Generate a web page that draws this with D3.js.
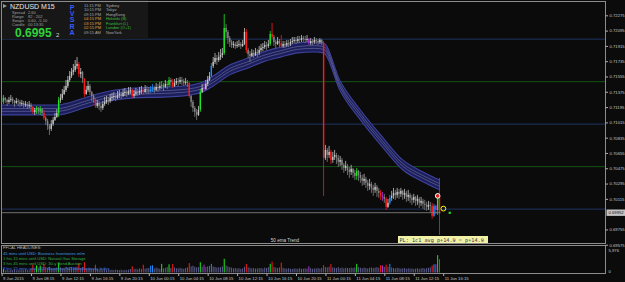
<!DOCTYPE html>
<html>
<head>
<meta charset="utf-8">
<script src="https://cdn.jsdelivr.net/npm/d3@7"></script>
<style>
  html, body { margin: 0; padding: 0; background: #0b0b0b; }
  svg { display: block; font-family: "Liberation Sans", Arial, sans-serif; }
</style>
</head>
<body>
<div id="container"></div>
<script>
/* CONSTANTS AND GLOBALS */
const width = 625;
const height = 282;
const pane = {left: 1.5, right: 605.5, top: 1.5, bottom: 243.5};
const volPane = {top: 245.5, bottom: 273.5};

/* DATA : NZDUSD M15, 9 Jun 04:15 -> 11 Jun 15:45 */
const firstOpen = 0.71255;
const closes = [
  0.71267,0.71303,0.71279,0.71255,0.71279,0.71291,0.71267,0.71244,0.71267,0.71255,
  0.71232,0.71244,0.71220,0.71232,0.71208,0.71220,0.71197,0.71138,0.71161,0.71185,
  0.71150,0.71173,0.71126,0.71067,0.71032,0.70973,0.70938,0.70997,0.71044,0.71079,
  0.71126,0.71279,0.71303,0.71350,0.71397,0.71444,0.71514,0.71561,0.71608,0.71632,
  0.71679,0.71702,0.71585,0.71608,0.71526,0.71350,0.71397,0.71444,0.71373,0.71326,
  0.71291,0.71208,0.71244,0.71208,0.71185,0.71232,0.71255,0.71279,0.71267,0.71303,
  0.71314,0.71326,0.71303,0.71338,0.71350,0.71326,0.71361,0.71373,0.71350,0.71385,
  0.71397,0.71326,0.71350,0.71373,0.71361,0.71385,0.71397,0.71373,0.71408,0.71397,
  0.71385,0.71408,0.71420,0.71397,0.71432,0.71420,0.71444,0.71455,0.71432,0.71467,
  0.71455,0.71514,0.71491,0.71444,0.71479,0.71502,0.71491,0.71514,0.71502,0.71479,
  0.71491,0.71479,0.71326,0.71255,0.71185,0.71138,0.71103,0.71161,0.71373,0.71420,
  0.71408,0.71467,0.71514,0.71561,0.71679,0.71726,0.71773,0.71749,0.71785,0.71808,
  0.71832,0.72126,0.72079,0.72008,0.71961,0.71926,0.71938,0.71914,0.71926,0.71938,
  0.71914,0.71938,0.72079,0.71867,0.71820,0.71796,0.71832,0.71808,0.71844,0.71832,
  0.71867,0.71891,0.71902,0.71926,0.71914,0.71938,0.72055,0.72020,0.71961,0.71938,
  0.71973,0.71949,0.71914,0.71938,0.71926,0.71949,0.71938,0.71961,0.71973,0.71985,
  0.71973,0.71996,0.71985,0.72008,0.71996,0.71985,0.71996,0.71949,0.71973,0.71961,
  0.71985,0.71973,0.71961,0.71985,0.71949,0.70597,0.70691,0.70632,0.70668,0.70573,
  0.70609,0.70632,0.70597,0.70550,0.70573,0.70515,0.70479,0.70503,0.70456,0.70432,
  0.70468,0.70421,0.70385,0.70444,0.70397,0.70362,0.70327,0.70350,0.70303,0.70268,
  0.70291,0.70244,0.70221,0.70256,0.70209,0.70185,0.70150,0.70138,0.70115,0.70021,
  0.70068,0.70127,0.70150,0.70185,0.70162,0.70197,0.70174,0.70209,0.70162,0.70185,
  0.70138,0.70162,0.70127,0.70103,0.70138,0.70091,0.70115,0.70068,0.70091,0.70056,
  0.70044,0.70021,0.70044,0.70033,0.69915,0.70033,0.69985,0.70150,0.69952
];
const highs = [
  0.71326,0.71338,0.71314,0.71291,0.71314,0.71338,0.71314,0.71279,0.71303,0.71291,
  0.71279,0.71279,0.71267,0.71267,0.71255,0.71267,0.71244,0.71208,0.71185,0.71208,
  0.71197,0.71208,0.71185,0.71161,0.71091,0.71056,0.70997,0.71044,0.71079,0.71126,
  0.71173,0.71314,0.71350,0.71408,0.71444,0.71514,0.71561,0.71620,0.71655,0.71702,
  0.71749,0.71785,0.71726,0.71655,0.71620,0.71538,0.71444,0.71502,0.71467,0.71385,
  0.71350,0.71303,0.71279,0.71267,0.71244,0.71267,0.71314,0.71326,0.71314,0.71350,
  0.71361,0.71373,0.71350,0.71385,0.71397,0.71373,0.71408,0.71420,0.71397,0.71432,
  0.71432,0.71408,0.71397,0.71420,0.71408,0.71432,0.71444,0.71420,0.71455,0.71444,
  0.71432,0.71444,0.71467,0.71444,0.71479,0.71467,0.71491,0.71502,0.71479,0.71514,
  0.71502,0.71550,0.71538,0.71526,0.71526,0.71538,0.71538,0.71550,0.71550,0.71526,
  0.71538,0.71514,0.71491,0.71338,0.71279,0.71208,0.71173,0.71208,0.71408,0.71467,
  0.71479,0.71514,0.71561,0.71608,0.71714,0.71785,0.71832,0.71808,0.71844,0.71879,
  0.71891,0.72290,0.72173,0.72102,0.72032,0.71985,0.71973,0.71961,0.71973,0.71985,
  0.71961,0.71985,0.72126,0.72114,0.71891,0.71855,0.71879,0.71867,0.71891,0.71879,
  0.71914,0.71938,0.71949,0.71973,0.71961,0.71985,0.72090,0.72185,0.72043,0.71985,
  0.72020,0.71996,0.72043,0.71973,0.71973,0.71985,0.71985,0.71996,0.72020,0.72020,
  0.72020,0.72032,0.72032,0.72043,0.72032,0.72032,0.72043,0.72008,0.72008,0.71996,
  0.72020,0.72008,0.71996,0.72008,0.71996,0.71973,0.70750,0.70715,0.70738,0.70691,
  0.70668,0.70691,0.70656,0.70632,0.70620,0.70597,0.70538,0.70562,0.70526,0.70491,
  0.70515,0.70479,0.70456,0.70479,0.70456,0.70432,0.70397,0.70409,0.70374,0.70338,
  0.70350,0.70315,0.70279,0.70303,0.70279,0.70244,0.70221,0.70197,0.70174,0.70138,
  0.70115,0.70162,0.70209,0.70244,0.70221,0.70244,0.70232,0.70244,0.70221,0.70232,
  0.70209,0.70221,0.70185,0.70162,0.70174,0.70150,0.70162,0.70138,0.70138,0.70115,
  0.70103,0.70080,0.70091,0.70080,0.70068,0.70056,0.70044,0.70185,0.70362
];
const lows = [
  0.71232,0.71232,0.71244,0.71208,0.71232,0.71255,0.71232,0.71197,0.71232,0.71208,
  0.71197,0.71208,0.71185,0.71197,0.71173,0.71185,0.71150,0.71114,0.71103,0.71114,
  0.71114,0.71103,0.71091,0.71044,0.70985,0.70926,0.70867,0.70914,0.70973,0.71032,
  0.71067,0.71079,0.71244,0.71279,0.71338,0.71373,0.71420,0.71491,0.71538,0.71573,
  0.71608,0.71644,0.71550,0.71538,0.71479,0.71314,0.71338,0.71373,0.71338,0.71267,
  0.71244,0.71185,0.71185,0.71161,0.71138,0.71161,0.71208,0.71232,0.71220,0.71244,
  0.71267,0.71279,0.71267,0.71291,0.71303,0.71291,0.71314,0.71326,0.71314,0.71338,
  0.71350,0.71303,0.71303,0.71326,0.71326,0.71338,0.71350,0.71338,0.71361,0.71350,
  0.71350,0.71361,0.71373,0.71361,0.71385,0.71373,0.71397,0.71408,0.71385,0.71420,
  0.71408,0.71432,0.71444,0.71420,0.71432,0.71455,0.71444,0.71467,0.71455,0.71444,
  0.71455,0.71432,0.71303,0.71197,0.71138,0.71079,0.71044,0.71091,0.71138,0.71361,
  0.71385,0.71397,0.71444,0.71502,0.71550,0.71655,0.71702,0.71691,0.71726,0.71749,
  0.71773,0.71808,0.72008,0.71938,0.71902,0.71891,0.71891,0.71879,0.71891,0.71902,
  0.71879,0.71902,0.71926,0.71832,0.71773,0.71726,0.71785,0.71773,0.71796,0.71785,
  0.71808,0.71844,0.71855,0.71879,0.71867,0.71891,0.71914,0.71996,0.71914,0.71891,
  0.71926,0.71902,0.71891,0.71891,0.71891,0.71902,0.71902,0.71914,0.71938,0.71949,
  0.71938,0.71949,0.71949,0.71961,0.71961,0.71949,0.71961,0.71926,0.71926,0.71926,
  0.71938,0.71938,0.71926,0.71938,0.71926,0.70150,0.70573,0.70550,0.70597,0.70526,
  0.70538,0.70573,0.70526,0.70491,0.70503,0.70456,0.70421,0.70444,0.70397,0.70362,
  0.70397,0.70362,0.70338,0.70338,0.70327,0.70303,0.70268,0.70279,0.70244,0.70209,
  0.70221,0.70185,0.70150,0.70185,0.70138,0.70127,0.70103,0.70091,0.70068,0.69985,
  0.70009,0.70044,0.70091,0.70115,0.70103,0.70127,0.70115,0.70138,0.70103,0.70115,
  0.70080,0.70091,0.70068,0.70044,0.70068,0.70033,0.70044,0.70009,0.70033,0.69997,
  0.69985,0.69974,0.69985,0.69962,0.69880,0.69903,0.69938,0.69927,0.69691
];
const volumes = [
  650,900,520,700,480,610,560,740,500,620,
  580,690,540,760,600,520,830,1900,900,1750,
  880,1700,950,2100,1300,1150,1400,1050,980,1100,
  1200,2300,1250,1000,1150,1300,1100,1250,1350,1050,
  1200,1400,2200,1100,1300,2500,1050,980,1150,900,
  870,1900,820,760,950,700,780,640,720,600,
  680,560,720,610,580,690,520,640,580,700,
  860,1500,820,900,760,1000,880,1900,940,1050,
  1100,1650,1750,980,1200,1050,900,2100,1000,1150,
  1300,2000,1100,2100,1250,1050,980,1150,1020,900,
  1100,1250,2300,1500,1650,1400,1250,1300,2500,1400,
  1900,1350,1500,1600,2100,1450,1350,1200,1250,1300,
  1500,3350,1700,1450,1300,1200,1000,1100,950,1050,
  900,1000,1400,2100,1250,1150,1000,1100,950,1000,
  1050,1100,950,1200,1100,1300,2100,2650,1400,1200,
  1100,1250,2400,1150,1000,950,1050,900,850,1000,
  950,900,1050,880,920,1000,950,1500,1050,900,
  980,1000,1100,950,1150,1800,1300,1250,1400,2100,
  1250,1150,1100,1300,1050,1200,1000,1150,1100,1050,
  1200,1100,1250,2100,1300,1150,1050,1200,1100,1000,
  1150,1250,1100,1200,1300,1150,1800,1700,1350,1900,
  1400,2100,1250,1100,1000,1150,1050,950,1000,1100,
  900,1050,950,1000,880,950,1050,900,1000,1100,
  950,1050,1150,1250,1700,2000,2000,4230,3240
];
// PVSRA volume classes: r climax bear, g climax bull, b rising bull, m rising bear
const pvsraBars = [
  [1,"g"],[17,"r"],[19,"g"],[21,"g"],[23,"r"],[31,"g"],[42,"r"],[45,"r"],[51,"r"],
  [71,"r"],[77,"r"],[81,"b"],[82,"b"],[87,"g"],[91,"g"],[93,"r"],[102,"r"],[108,"g"],
  [110,"m"],[114,"b"],[121,"g"],[133,"r"],[146,"g"],[147,"r"],[152,"r"],[167,"m"],
  [175,"r"],[179,"r"],[193,"g"],[206,"r"],[207,"m"],[209,"r"],[211,"b"],
  [234,"r"],[235,"b"],[236,"m"],[237,"g"],[238,"r"]
];
// 50 ema trend band centre [bar, price]
const emaBand = [
  [0,0.71161],[17,0.71161],[30,0.71161],[45,0.71244],[54,0.71303],[72,0.71361],
  [90,0.71373],[103,0.71397],[108,0.71420],[115,0.71502],[124,0.71632],[134,0.71714],
  [142,0.71785],[152,0.71844],[161,0.71891],[170,0.71902],[175,0.71891],[184,0.71444],
  [195,0.71103],[206,0.70809],[218,0.70515],[229,0.70374],[238,0.70279]
];
const levels = [0.7200, 0.7150, 0.7100, 0.7050, 0.7000];
const bid = 0.69952;
const priceTicks = [0.72275,0.72095,0.71915,0.71735,0.71555,0.71375,0.71195,0.71015,
  0.70835,0.70655,0.70475,0.70295,0.70115,0.69755,0.69575];
const volTicks = [0, 5976];
const timeTickBars = [0,16,32,48,64,80,96,112,128,144,160,176,192,208,224,240];
const timeTickLabels = ["9 Jun 2015","9 Jun 08:15","9 Jun 12:15","9 Jun 16:15","9 Jun 20:15",
  "10 Jun 00:15","10 Jun 04:15","10 Jun 08:15","10 Jun 12:15","10 Jun 16:15","10 Jun 20:15",
  "11 Jun 00:15","11 Jun 04:15","11 Jun 08:15","11 Jun 12:15","11 Jun 16:15"];
const tradeMarks = [[237, 0.70150, "entry"], [240.1, 0.70000, "target"], [243.5, 0.69952, "bid"]];
const sessionTimes = ["11:15 PM","10:15 PM","09:15 PM","04:15 PM","03:15 PM","02:15 PM","09:15 AM"];
const sessionNames = ["Sydney","Tokyo","HongKong","Helsinki (B)","Frankfurt (L)","London (O+1)","NewYork"];
const infoLabels = ["Spread","Range","Swaps","Candle"];
const infoValues = ["2.60","82 : 202","0.60, -5.10","00:13:35"];
const headlines = [
  "FFCAL HEADLINES:",
  "45 mins until USD: Business Inventories m/m",
  "1 hrs 15 mins until USD: Natural Gas Storage",
  "3 hrs 45 mins until USD: 30-y Bond Auction",
  "9 hrs 15 mins until NZD: Business NZ Manufacturing Index"
];

const typeColor = {r: "#ff1a1a", g: "#1ee81e", b: "#1e8fff", m: "#b035d8", up: "#c4c4c4", dn: "#858585"};
const volNormal = "#5d5d8c";

let svg, xScale, yScale, vScale;

init();

function init() {
  const pvsra = new Map(pvsraBars);
  const candles = closes.map((c, i) => {
    const o = i ? closes[i - 1] : firstOpen;
    return {
      i, o, c,
      h: Math.max(highs[i], o, c),
      l: Math.min(lows[i], o, c),
      v: volumes[i],
      t: pvsra.get(i) || (c >= o ? "up" : "dn")
    };
  });

  xScale = d3.scaleLinear().domain([0, closes.length - 1]).range([1.6, 439.5]);
  yScale = d3.scaleLinear().domain([bid, 0.72275]).range([212.7, 15.3]);
  vScale = d3.scaleLinear().domain([0, 5976]).range([272.5, 248]);

  svg = d3.select("#container").append("svg")
    .attr("width", width)
    .attr("height", height);

  svg.append("rect").attr("width", width).attr("height", height).attr("fill", "#0b0b0b");

  const main = svg.append("g");
  main.append("clipPath").attr("id", "mainclip")
    .append("rect")
    .attr("x", pane.left).attr("y", pane.top)
    .attr("width", pane.right - pane.left).attr("height", pane.bottom - pane.top);
  const plot = main.append("g").attr("clip-path", "url(#mainclip)");

  // round number levels
  plot.selectAll("line.level")
    .data(levels)
    .join("line")
    .attr("class", "level")
    .attr("x1", pane.left).attr("x2", pane.right)
    .attr("y1", d => yScale(d) + 0.5).attr("y2", d => yScale(d) + 0.5)
    .attr("stroke", (d, i) => i % 2 ? "#145214" : "#1f3563")
    .attr("stroke-width", 1);

  // ema trend band
  const halfBand = 0.00058;
  const bandArea = d3.area()
    .x(d => xScale(d[0]))
    .y0(d => yScale(d[1] - halfBand))
    .y1(d => yScale(d[1] + halfBand))
    .curve(d3.curveMonotoneX);
  const bandLine = off => d3.line()
    .x(d => xScale(d[0]))
    .y(d => yScale(d[1] + off))
    .curve(d3.curveMonotoneX);

  plot.append("path").datum(emaBand)
    .attr("d", bandArea)
    .attr("fill", "#1b1e5a");
  [halfBand, -halfBand].forEach(off => {
    plot.append("path").datum(emaBand)
      .attr("d", bandLine(off))
      .attr("fill", "none")
      .attr("stroke", "#3e4299")
      .attr("stroke-width", 1.1);
  });
  [0.00016, -0.00016].forEach(off => {
    plot.append("path").datum(emaBand)
      .attr("d", bandLine(off))
      .attr("fill", "none")
      .attr("stroke", "#8587b4")
      .attr("stroke-width", 0.5);
  });

  // candles
  const cg = plot.selectAll("g.candle")
    .data(candles)
    .join("g")
    .attr("class", "candle");
  cg.append("line")
    .attr("x1", d => xScale(d.i)).attr("x2", d => xScale(d.i))
    .attr("y1", d => yScale(d.h)).attr("y2", d => yScale(d.l))
    .attr("stroke", d => typeColor[d.t])
    .attr("stroke-width", 0.8);
  cg.append("rect")
    .attr("x", d => xScale(d.i) - 0.7)
    .attr("width", 1.4)
    .attr("y", d => yScale(Math.max(d.o, d.c)))
    .attr("height", d => Math.max(0.8, Math.abs(yScale(d.o) - yScale(d.c))))
    .attr("fill", d => typeColor[d.t]);

  // bid line
  plot.append("line")
    .attr("x1", pane.left).attr("x2", xScale(closes.length - 1) + 1)
    .attr("y1", yScale(bid)).attr("y2", yScale(bid))
    .attr("stroke", "#8a8a8a").attr("stroke-width", 0.8);

  // trade markers
  const [entry, target, last] = tradeMarks;
  plot.append("circle")
    .attr("cx", xScale(entry[0])).attr("cy", yScale(entry[1])).attr("r", 2.3)
    .attr("fill", "#e02020").attr("stroke", "#ffffff").attr("stroke-width", 1);
  plot.append("circle")
    .attr("cx", xScale(target[0])).attr("cy", yScale(target[1])).attr("r", 2.4)
    .attr("fill", "none").attr("stroke", "#ffff00").attr("stroke-width", 1);
  plot.append("rect")
    .attr("x", xScale(last[0]) - 1).attr("y", yScale(last[1]) - 1)
    .attr("width", 2.2).attr("height", 2.2).attr("fill", "#20e020");

  // captions inside the main pane
  main.append("text")
    .attr("x", 285).attr("y", 242.2)
    .attr("text-anchor", "middle")
    .attr("font-size", "4.6px").attr("fill", "#d8d8d8")
    .text("50 ema Trend");
  main.append("rect")
    .attr("x", 398).attr("y", 236).attr("width", 90).attr("height", 7)
    .attr("fill", "#f2f2a6");
  main.append("text")
    .attr("x", 399.5).attr("y", 241.6)
    .attr("font-family", "DejaVu Sans Mono, monospace")
    .attr("font-size", "5.2px").attr("fill", "#2a2a4a")
    .text("PL: 1c1 avg p+14.9 = p+14.9");

  // info panel
  const info = svg.append("g");
  info.append("rect").attr("x", 0).attr("y", 0).attr("width", 148).attr("height", 39)
    .attr("fill", "#171717");
  info.append("path").attr("d", "M3,4 L7,6 L3,8 Z").attr("fill", "#9a9a9a");
  info.append("text").attr("x", 10).attr("y", 8.6)
    .attr("font-size", "7px").attr("fill", "#e8e8e8")
    .text("NZDUSD  M15");
  info.selectAll("text.lab").data(infoLabels).join("text")
    .attr("class", "lab")
    .attr("x", 12).attr("y", (d, i) => 13.8 + i * 4.2)
    .attr("font-size", "4px").attr("fill", "#a0a0a0")
    .text(d => d);
  info.selectAll("text.val").data(infoValues).join("text")
    .attr("class", "val")
    .attr("x", 28).attr("y", (d, i) => 13.8 + i * 4.2)
    .attr("font-size", "4px").attr("fill", "#a0a0a0")
    .text(d => d);
  info.append("text").attr("x", 15).attr("y", 37.2)
    .attr("font-size", "12px").attr("font-weight", "bold").attr("fill", "#2fd13a")
    .text("0.6995");
  info.append("text").attr("x", 56).attr("y", 37.2)
    .attr("font-size", "6px").attr("fill", "#d0d0d0")
    .text("2");
  info.selectAll("text.pvsra").data("PVSRA".split("")).join("text")
    .attr("class", "pvsra")
    .attr("x", 72).attr("y", (d, i) => 9.5 + i * 6.4)
    .attr("text-anchor", "middle")
    .attr("font-size", "7px").attr("font-weight", "bold").attr("fill", "#3b5bef")
    .text(d => d);
  info.selectAll("text.stime").data(sessionTimes).join("text")
    .attr("class", "stime")
    .attr("x", 84).attr("y", (d, i) => 6.5 + i * 4.5)
    .attr("font-size", "4px")
    .attr("fill", (d, i) => i >= 3 && i <= 5 ? "#e0a040" : "#a8a8a8")
    .text(d => d);
  info.selectAll("text.sname").data(sessionNames).join("text")
    .attr("class", "sname")
    .attr("x", 106).attr("y", (d, i) => 6.5 + i * 4.5)
    .attr("font-size", "4px")
    .attr("fill", (d, i) => i >= 3 && i <= 5 ? "#38c038" : "#a8a8a8")
    .text(d => d);

  // volume pane
  const vol = svg.append("g");
  vol.selectAll("line.vbar")
    .data(candles)
    .join("line")
    .attr("class", "vbar")
    .attr("x1", d => xScale(d.i)).attr("x2", d => xScale(d.i))
    .attr("y1", vScale(0)).attr("y2", d => vScale(d.v))
    .attr("stroke", d => d.t === "up" || d.t === "dn" ? volNormal : typeColor[d.t])
    .attr("stroke-width", 1);

  vol.selectAll("text.news")
    .data(headlines)
    .join("text")
    .attr("class", "news")
    .attr("x", 3).attr("y", (d, i) => i ? 249.5 + i * 5 : 249)
    .attr("font-size", "4.1px")
    .attr("fill", (d, i) => ["#b8b8b8", "#3c9be0", "#30b040", "#30b040", "#3f74e0"][i])
    .text(d => d);

  // frames
  svg.append("rect")
    .attr("x", pane.left).attr("y", pane.top)
    .attr("width", pane.right - pane.left).attr("height", pane.bottom - pane.top)
    .attr("fill", "none").attr("stroke", "#8c8c8c").attr("stroke-width", 1);
  svg.append("rect")
    .attr("x", pane.left).attr("y", volPane.top)
    .attr("width", pane.right - pane.left).attr("height", volPane.bottom - volPane.top)
    .attr("fill", "none").attr("stroke", "#8c8c8c").attr("stroke-width", 1);

  // axes
  const styleAxis = g => {
    g.select(".domain").remove();
    g.selectAll(".tick line").attr("stroke", "#b0b0b0");
    g.selectAll(".tick text")
      .attr("fill", "#c8c8c8")
      .attr("font-size", "4.2px")
      .attr("font-family", "Liberation Sans, Arial, sans-serif");
  };

  svg.append("g")
    .attr("transform", `translate(${pane.right},0)`)
    .call(d3.axisRight(yScale).tickValues(priceTicks).tickSize(2.5).tickPadding(1.5)
      .tickFormat(d3.format(".5f")))
    .call(styleAxis);

  svg.append("g")
    .attr("transform", `translate(${pane.right},0)`)
    .call(d3.axisRight(vScale).tickValues(volTicks).tickSize(0).tickPadding(3))
    .call(styleAxis)
    .call(g => g.selectAll(".tick text").attr("dy", (d) => d ? "0.9em" : "0.1em"));

  svg.append("g")
    .attr("transform", `translate(0,${volPane.bottom})`)
    .call(d3.axisBottom(xScale).tickValues(timeTickBars).tickSize(2.5).tickPadding(1)
      .tickFormat((d, i) => timeTickLabels[i]))
    .call(styleAxis)
    .call(g => g.selectAll(".tick text").attr("text-anchor", "start").attr("dx", "1"));

  // bid price box
  const by = yScale(bid);
  svg.append("rect")
    .attr("x", pane.right + 1).attr("y", by - 3.2).attr("width", 18.5).attr("height", 6.4)
    .attr("fill", "#c4c4c4");
  svg.append("text")
    .attr("x", pane.right + 3).attr("y", by + 1.5)
    .attr("font-size", "4.2px").attr("fill", "#101010")
    .text(d3.format(".5f")(bid));
}
</script>
</body>
</html>
